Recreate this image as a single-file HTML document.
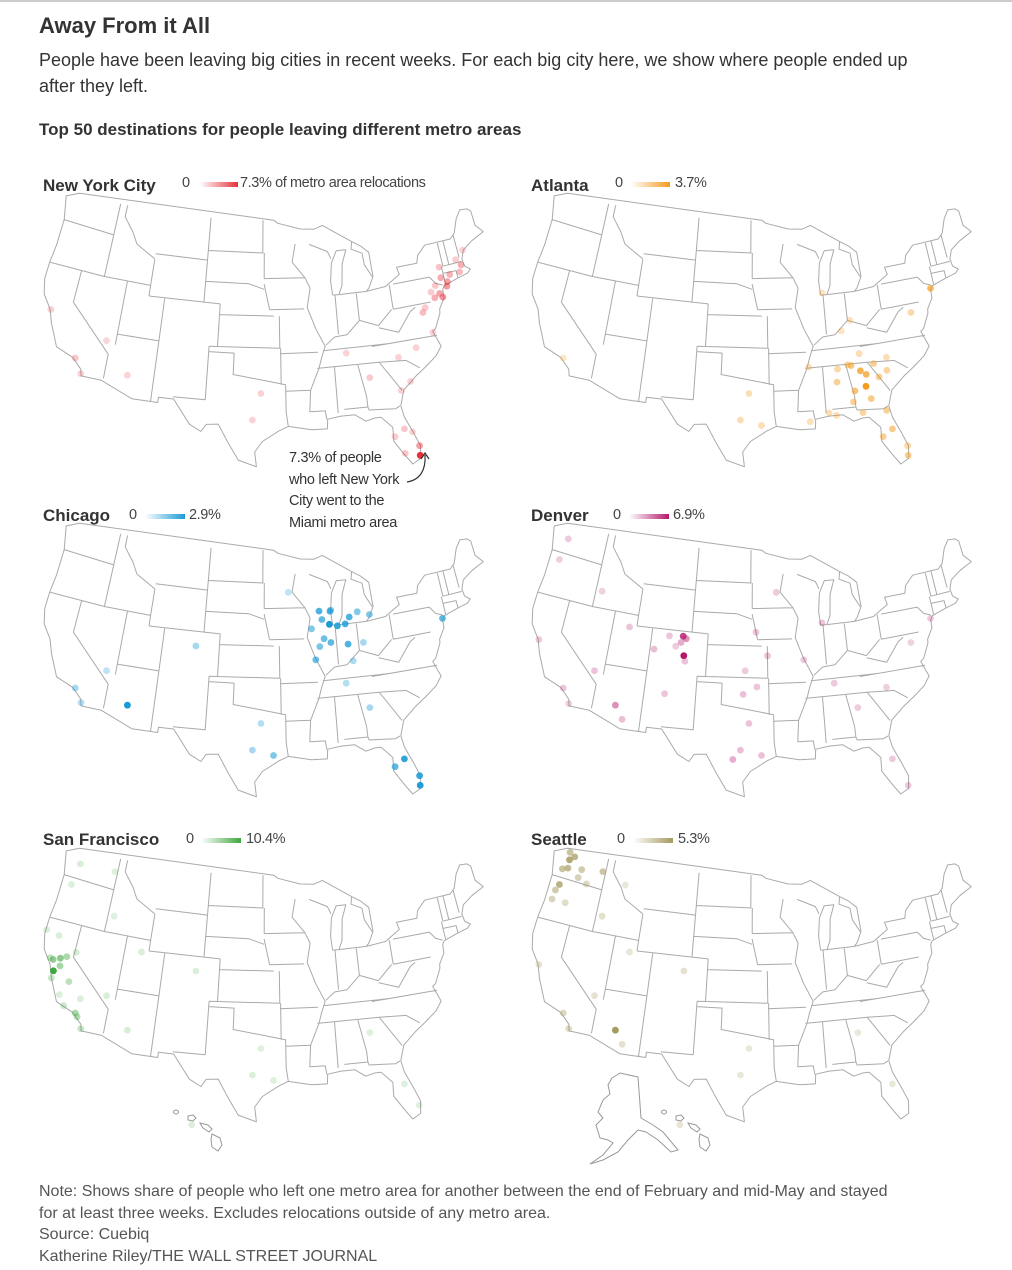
<!DOCTYPE html>
<html><head><meta charset="utf-8">
<style>
body{margin:0;background:#fff;width:1012px;height:1270px;position:relative;overflow:hidden;font-family:"Liberation Sans",sans-serif;color:#222}
.t{position:absolute;white-space:nowrap}
.h1{left:39px;top:13px;font-size:22px;font-weight:bold;color:#333}
.sub{left:39px;top:47px;font-size:18px;line-height:26px;color:#333;white-space:normal;width:900px}
.h2{left:39px;top:120px;font-size:17px;font-weight:bold;color:#333}
.pt{font-size:17px;font-weight:bold;color:#333}
.lg{font-size:14.5px;color:#444;letter-spacing:-0.4px}
.bar{position:absolute;height:5px}
.ann{left:289px;top:448px;font-size:14.5px;line-height:21.5px;color:#333;letter-spacing:-0.3px;white-space:normal}
.foot{left:39px;top:1181px;font-size:16px;line-height:21.5px;color:#555;white-space:normal;width:850px}
</style></head><body>
<div style="position:absolute;left:0;top:0;width:1012px;height:2px;background:#ccc"></div>
<div class="t h1">Away From it All</div>
<div class="t sub">People have been leaving big cities in recent weeks. For each big city here, we show where people ended up after they left.</div>
<div class="t h2">Top 50 destinations for people leaving different metro areas</div>

<div class="t pt" style="left:43px;top:176px">New York City</div>
<div class="t lg" style="left:182px;top:175px">0</div>
<div class="bar" style="left:200px;top:182px;width:38px;background:linear-gradient(90deg,#fff,#e8303a)"></div>
<div class="t lg" style="left:240px;top:175px">7.3% of metro area relocations</div>

<div class="t pt" style="left:531px;top:176px">Atlanta</div>
<div class="t lg" style="left:615px;top:175px">0</div>
<div class="bar" style="left:631px;top:182px;width:39px;background:linear-gradient(90deg,#fff,#f39c1f)"></div>
<div class="t lg" style="left:675px;top:175px">3.7%</div>

<div class="t pt" style="left:43px;top:506px">Chicago</div>
<div class="t lg" style="left:129px;top:507px">0</div>
<div class="bar" style="left:145px;top:514px;width:40px;background:linear-gradient(90deg,#fff,#1a9bd7)"></div>
<div class="t lg" style="left:189px;top:507px">2.9%</div>

<div class="t pt" style="left:531px;top:506px">Denver</div>
<div class="t lg" style="left:613px;top:507px">0</div>
<div class="bar" style="left:629px;top:514px;width:40px;background:linear-gradient(90deg,#fff,#b5186b)"></div>
<div class="t lg" style="left:673px;top:507px">6.9%</div>

<div class="t pt" style="left:43px;top:830px">San Francisco</div>
<div class="t lg" style="left:186px;top:831px">0</div>
<div class="bar" style="left:201px;top:838px;width:40px;background:linear-gradient(90deg,#fff,#3fa83f)"></div>
<div class="t lg" style="left:246px;top:831px">10.4%</div>

<div class="t pt" style="left:531px;top:830px">Seattle</div>
<div class="t lg" style="left:617px;top:831px">0</div>
<div class="bar" style="left:633px;top:838px;width:40px;background:linear-gradient(90deg,#fff,#a59a60)"></div>
<div class="t lg" style="left:678px;top:831px">5.3%</div>

<svg id="map" width="1012" height="1270" style="position:absolute;left:0;top:0"></svg>

<div class="t ann">7.3% of people<br>who left New York<br>City went to the<br>Miami metro area</div>

<div class="t foot">Note: Shows share of people who left one metro area for another between the end of February and mid-May and stayed for at least three weeks. Excludes relocations outside of any metro area.<br>Source: Cuebiq<br>Katherine Riley/THE WALL STREET JOURNAL</div>

<script>
// ---- data: destinations (lon, lat, share %) ----
const nycLon=[-80.2,-80.1,-81.4,-82.5,-80.6,-71.0,-71.4,-72.7,-73.8,-73.2,-74.5,-75.2,-75.5,-76.6,-77.0,-74.2,-73.4,-73.9,-70.3,-71.5,-76.3,-78.6,-80.8,-79.9,-81.1,-84.4,-86.8,-97.7,-96.8,-112.0,-118.2,-117.2,-122.4,-115.1,-81.7,-74.8];
const nycLat=[25.8,26.7,28.5,27.9,28.1,42.4,41.8,41.8,42.7,41.2,40.3,40.0,40.6,39.3,38.9,39.9,40.8,41.7,43.7,43.0,36.9,35.8,35.2,32.8,32.1,33.7,36.2,30.3,32.8,33.4,34.0,32.7,37.8,36.2,26.2,41.1];
const nycVal=[7.3,3.0,1.5,1.2,1.0,2.5,2.0,2.2,1.6,3.0,2.8,2.4,1.3,1.4,1.8,3.5,3.2,2.6,1.0,1.2,1.0,1.0,1.0,1.0,0.9,1.3,0.9,0.9,1.0,0.9,1.5,1.0,0.9,0.8,1.5,1.5];

const atlLon=[-83.6,-84.0,-85.0,-83.4,-84.9,-85.2,-82.4,-81.0,-83.2,-86.8,-86.6,-85.4,-84.3,-82.0,-81.4,-80.2,-82.5,-81.7,-80.1,-74.0,-77.0,-80.8,-97.7,-95.4,-96.8,-118.2,-87.6,-84.5,-88.0,-87.2,-85.7,-90.1,-89.9,-83.9];
const atlLat=[32.8,34.3,34.9,33.9,32.5,31.5,34.8,34.0,31.6,33.5,34.7,35.0,30.4,33.5,28.5,25.8,27.9,30.3,26.7,40.7,38.9,35.2,30.3,29.8,32.8,34.0,41.9,39.1,30.7,30.4,38.2,30.0,35.1,35.9];
const atlVal=[3.7,2.8,2.0,2.6,2.2,1.5,1.6,1.4,1.8,1.6,1.2,1.3,1.4,1.6,1.8,1.7,1.6,1.6,1.2,2.5,1.2,1.0,1.1,1.0,1.0,0.6,0.8,0.8,1.0,1.0,0.8,0.9,0.9,1.0];

const chiLon=[-88.0,-89.4,-88.2,-87.2,-86.2,-85.6,-86.1,-89.6,-89.0,-88.2,-90.2,-83.0,-84.5,-93.3,-87.9,-89.1,-74.0,-104.9,-112.0,-118.2,-117.2,-115.1,-97.7,-96.8,-95.4,-81.4,-80.2,-82.5,-80.1,-84.4,-86.8,-85.7,-90.5,-84.2];
const chiLat=[43.0,43.1,41.8,41.6,41.7,42.3,39.8,39.8,40.5,40.1,38.6,42.3,42.7,45.0,43.1,42.3,40.7,39.7,33.4,34.0,32.8,36.2,30.3,32.8,29.8,28.5,25.8,27.9,26.7,33.7,36.2,38.2,41.5,39.8];
const chiVal=[2.0,2.2,2.9,2.5,2.4,2.2,2.2,1.6,1.8,2.0,1.8,1.5,1.5,0.6,1.6,2.0,2.0,1.0,2.9,1.0,0.8,0.6,1.0,0.8,1.5,2.6,2.8,2.0,2.5,1.0,0.8,0.9,1.5,1.0];

const denLon=[-104.8,-105.1,-104.7,-105.3,-108.5,-104.6,-106.8,-105.9,-112.0,-111.0,-115.1,-111.9,-106.6,-97.7,-96.8,-95.4,-98.5,-97.5,-95.9,-94.6,-96.0,-93.3,-87.6,-84.4,-81.4,-80.2,-122.4,-118.2,-117.2,-122.7,-122.3,-116.2,-74.0,-77.0,-86.8,-80.8,-97.3,-90.2];
const denLat=[38.8,40.6,40.4,40.0,39.1,38.3,40.5,39.6,33.4,32.2,36.2,40.8,35.1,30.3,32.8,29.8,29.4,35.5,36.2,39.1,41.3,45.0,41.9,33.7,28.5,25.8,37.8,34.0,32.7,45.5,47.6,43.6,40.7,38.9,36.2,35.2,37.7,38.6];
const denVal=[6.9,5.5,3.0,2.0,1.5,1.3,1.2,1.0,3.0,1.4,1.3,1.2,1.2,1.5,1.3,1.4,2.0,1.4,1.2,1.3,1.2,1.0,1.2,1.0,1.0,1.0,1.0,1.2,0.8,0.9,1.0,0.8,1.0,0.8,1.0,0.9,1.0,1.0];

const sfLon=[-121.5,-121.9,-122.3,-120.8,-121.3,-119.8,-118.2,-117.2,-117.9,-119.7,-122.7,-121.9,-124.1,-122.4,-119.8,-115.1,-112.0,-111.9,-122.7,-122.3,-104.9,-97.7,-95.4,-96.8,-84.4,-81.4,-117.4,-118.0,-120.5,-116.2,-157.9,-80.2];
const sfLat=[38.6,37.3,38.3,38.9,37.9,36.7,34.0,32.7,33.7,34.4,38.4,36.6,40.8,40.6,39.5,36.2,33.4,40.8,45.5,47.6,39.7,30.3,29.8,32.8,33.7,28.5,47.7,35.4,35.3,43.6,21.3,26.3];
const sfVal=[6.0,10.4,5.5,4.0,4.5,3.0,4.0,2.5,3.5,2.0,3.0,2.5,1.0,1.0,1.5,1.2,1.2,1.0,1.0,1.2,1.0,1.0,0.8,0.8,0.8,0.8,0.8,1.0,1.0,0.8,1.0,0.8];

const seaLon=[-122.2,-122.9,-122.5,-117.4,-120.5,-119.2,-122.7,-123.0,-123.1,-121.3,-116.2,-122.4,-118.2,-117.2,-112.0,-111.0,-115.1,-111.9,-104.9,-97.7,-96.8,-81.4,-84.4,-120.3,-122.3,-121.7,-157.9,-114.0];
const seaLat=[47.2,47.0,48.7,47.7,46.6,46.2,45.5,44.9,44.0,44.0,43.6,37.8,34.0,32.7,33.4,32.2,36.2,40.8,39.7,30.3,32.8,28.5,33.7,47.4,48.0,48.4,21.3,46.9];
const seaVal=[3.5,3.0,3.0,2.8,2.2,1.8,4.0,2.5,2.0,1.5,1.3,1.2,1.8,1.5,5.3,1.2,1.2,1.0,1.2,0.8,0.8,0.8,0.8,2.5,4.5,3.8,1.0,0.8];

// ---- geometry ----
const outline=[[-124.7,48.4],[-123.0,49.0],[-95.2,49.0],[-94.6,48.7],[-91.5,48.1],[-89.6,48.0],[-88.4,48.3],[-84.6,46.5],[-83.5,46.0],[-82.5,45.3],[-82.4,43.0],[-83.1,42.0],[-83.5,41.7],[-81.0,41.9],[-79.0,42.8],[-79.2,43.5],[-76.5,43.5],[-76.2,44.2],[-75.0,45.0],[-71.5,45.0],[-70.8,45.4],[-70.0,46.7],[-69.2,47.4],[-68.2,47.3],[-67.8,47.0],[-67.8,45.6],[-67.0,44.8],[-68.8,44.3],[-70.2,43.7],[-70.7,42.9],[-70.6,42.2],[-70.0,41.8],[-70.5,41.5],[-71.8,41.3],[-73.7,40.9],[-74.0,40.6],[-74.1,39.8],[-74.9,38.9],[-75.0,38.5],[-75.9,37.2],[-76.3,37.0],[-75.7,35.5],[-76.5,34.7],[-77.9,33.9],[-79.2,33.2],[-80.8,32.1],[-81.4,30.7],[-81.2,29.6],[-80.5,28.0],[-80.0,26.7],[-80.2,25.5],[-81.1,25.1],[-81.8,26.1],[-82.7,27.5],[-82.6,28.8],[-83.7,29.9],[-84.4,29.9],[-85.4,29.7],[-86.5,30.4],[-88.0,30.4],[-89.5,30.2],[-89.6,29.3],[-91.3,29.3],[-93.8,29.7],[-94.8,29.3],[-96.6,28.3],[-97.4,27.3],[-97.2,25.9],[-99.1,26.5],[-100.3,28.2],[-101.4,29.8],[-102.7,29.7],[-103.2,29.0],[-104.5,29.6],[-106.5,31.8],[-108.2,31.8],[-108.2,31.3],[-111.1,31.3],[-114.8,32.5],[-117.1,32.5],[-117.3,33.1],[-118.5,34.0],[-120.6,34.6],[-121.9,36.6],[-122.5,37.8],[-123.7,39.0],[-124.2,40.4],[-124.2,42.0],[-124.0,43.7],[-124.0,46.2],[-124.7,48.4]];
const borders=[
[[-104,45.9],[-96.6,45.9]],[[-104,43],[-98.5,43],[-96.5,42.5]],[[-102,40],[-95.3,40]],[[-103,37],[-94.6,37]],
[[-109,41],[-109,37]],[[-102,41],[-102,37]],[[-111,41],[-102,41]],[[-111,45],[-104,45]],[[-104.05,49],[-104.05,41]],
[[-111,44.5],[-111,42],[-111,41]],[[-117,42],[-111,42]],[[-120,42],[-120,39],[-114.6,35],[-114.6,32.7]],[[-124,46.2],[-117,46]],
[[-124.2,42],[-117,42]],[[-117,49],[-117,42]],[[-114,37],[-109,37]],[[-114,42],[-114,36]],[[-109,37],[-109,31.3]],
[[-103,37],[-103,32],[-106.6,32]],[[-103,36.5],[-100,36.5],[-100,34.5],[-94,33.6],[-94,31],[-93.8,29.7]],[[-94.5,37],[-94.5,33.6]],
[[-94.6,40],[-94.6,37]],[[-96.5,43],[-95.8,40.6]],[[-95.8,40.6],[-91.5,40.6]],[[-96.5,43.5],[-91.2,43.5]],[[-96.5,45.9],[-96.5,43.5]],[[-96.7,49],[-96.7,45.9]],
[[-92.3,46.7],[-92.8,45],[-91.2,43.5],[-90.6,42.5],[-91.1,40.7],[-90.2,38.7],[-89.2,37],[-89.7,36],[-90.1,35],[-91.2,33],[-91.4,31],[-89.7,31],[-89.6,30.2]],
[[-94.6,36.5],[-90.1,36.5]],[[-94,33],[-91.2,33]],[[-89.5,36.6],[-81.7,36.6]],[[-90.3,35],[-83.1,35]],[[-83.7,36.55],[-75.9,36.55]],
[[-89.1,37.1],[-88,37.8],[-86.5,37.9],[-84.8,39.1],[-82.6,38.4],[-80.7,39.7]],[[-87.5,41.7],[-87.5,38]],[[-84.8,41.7],[-84.8,39.1]],[[-80.5,42],[-80.5,39.7]],
[[-80,42],[-75.3,42]],[[-80.5,39.7],[-75.8,39.7]],[[-87,41.7],[-83.5,41.7]],[[-90.4,46.6],[-88,45.8],[-87.6,45.1]],
[[-88.3,35],[-88.3,30.7]],[[-85.6,35],[-85,32],[-85,31]],[[-87.6,31],[-85,31],[-84.9,30.7],[-82,30.5],[-81.5,30.7]],
[[-83.1,35],[-81,32.1]],[[-83.1,35],[-80,34.8],[-78.6,33.9]],[[-82.6,38.2],[-80.3,37.5],[-78.5,39.2],[-77.8,39.5]],
[[-73.3,45],[-73.3,42.7]],[[-73.5,42.7],[-73.5,41]],[[-72.5,45],[-72.5,42.7]],[[-73.3,42.7],[-70.8,42.7]],[[-73.5,42.05],[-71.8,42],[-71.8,41.3]],
[[-71,45.3],[-71,43.1]],[[-75.3,42],[-74.7,41.3],[-73.9,41]],[[-116,49],[-116,47.9],[-114.5,46.6],[-113.7,45.6],[-111,44.5]],
[[-87.8,41.7],[-87.9,43.0],[-87.6,44.7],[-86.8,45.8],[-85.5,45.8],[-86.2,44.5],[-86.5,42.5],[-87.0,41.7],[-87.8,41.7]],
[[-84.6,46.5],[-84.8,45.8],[-83.4,45.3],[-83.3,44.2],[-82.5,43.0]]
];
// projection (Albers-like conic)
const n=0.6028,C=1.3512,rho0=1.3033,R=Math.PI/180;
function proj(lon,lat){const rho=Math.sqrt(C-2*n*Math.sin(lat*R))/n;const th=n*(lon+96)*R;return [228+610*rho*Math.sin(th),148-610*(rho0-rho*Math.cos(th))];}
function hawaii(lon,lat){return [ 135+(lon+160)*8 , 300-(lat-19)*11 ];}

const panels=[
 {key:'nyc',dx:40,dy:195,color:'#e8303a',max:7.3,lon:nycLon,lat:nycLat,val:nycVal,ins:false},
 {key:'atlanta',dx:528,dy:195,color:'#f39c1f',max:3.7,lon:atlLon,lat:atlLat,val:atlVal,ins:false},
 {key:'chicago',dx:40,dy:525,color:'#1a9bd7',max:2.9,lon:chiLon,lat:chiLat,val:chiVal,ins:false},
 {key:'denver',dx:528,dy:525,color:'#b5186b',max:6.9,lon:denLon,lat:denLat,val:denVal,ins:false},
 {key:'sf',dx:40,dy:850,color:'#3fa83f',max:10.4,lon:sfLon,lat:sfLat,val:sfVal,ins:true,ak:false},
 {key:'seattle',dx:528,dy:850,color:'#a59a60',max:5.3,lon:seaLon,lat:seaLat,val:seaVal,ins:true,ak:true}
];
const NS='http://www.w3.org/2000/svg';
const svg=document.getElementById('map');
function pathOf(pts,f,close){return pts.map((p,i)=>{const q=f(p[0],p[1]);return (i?'L':'M')+q[0].toFixed(1)+' '+q[1].toFixed(1);}).join('')+(close?'Z':'');}
panels.forEach(p=>{
  const g=document.createElementNS(NS,'g');
  g.setAttribute('transform','translate('+p.dx+','+p.dy+')');
  
  
  let d=pathOf(outline,proj,true);
  borders.forEach(b=>{d+=pathOf(b,proj,false);});
  const path=document.createElementNS(NS,'path');
  path.setAttribute('d',d);path.setAttribute('fill','none');path.setAttribute('stroke','#aaa');path.setAttribute('stroke-width','1');path.setAttribute('stroke-linejoin','round');
  
  
  g.appendChild(path);
  if(p.ins){
    const hw=document.createElementNS(NS,'path');
    hw.setAttribute('d','M136 260a2.5 2 0 1 0 .1 0M148 266l5 -1 3 3 -3 3 -5 -1zM160 273l8 2 4 4-3 3-6-4zM172 284l8 4 2 7-4 6-6-4-1-8z');
    hw.setAttribute('fill','none');hw.setAttribute('stroke','#999');hw.setAttribute('stroke-width','1');
    
    
    g.appendChild(hw);
    if(p.ak){
      const ak=document.createElementNS(NS,'path');
      ak.setAttribute('d','M84 228L92 223L110 227L113 268L125 275L135 282L140 288L150 300L143 302L130 290L118 282L110 280L100 290L90 302L75 310L62 314L75 305L85 293L80 290L72 288L68 275L75 268L70 262L75 250L82 244L80 235Z');
      ak.setAttribute('fill','none');ak.setAttribute('stroke','#999');ak.setAttribute('stroke-width','1');
      
      
      g.appendChild(ak);
    }
  }
  const idx=p.val.map((v,i)=>i).sort((a,b)=>p.val[a]-p.val[b]);
  idx.forEach(i=>{
    const q=(p.lon[i]<-150)?hawaii(p.lon[i],p.lat[i]):proj(p.lon[i],p.lat[i]);
    const c=document.createElementNS(NS,'circle');
    c.setAttribute('cx',q[0].toFixed(1));c.setAttribute('cy',q[1].toFixed(1));c.setAttribute('r','3.4');
    c.setAttribute('fill',p.color);
    c.setAttribute('fill-opacity',(0.12+0.88*Math.pow(p.val[i]/p.max,1.1)).toFixed(2));
    
    
    g.appendChild(c);
  });
  svg.appendChild(g);
});
// annotation arrow
const ar=document.createElementNS(NS,'path');
ar.setAttribute('d','M407 482 C420 480 426 470 425 455 M421 459 L425 453 L429 459');
ar.setAttribute('fill','none');ar.setAttribute('stroke','#333');ar.setAttribute('stroke-width','1.2');


svg.appendChild(ar);
</script>
</body></html>
